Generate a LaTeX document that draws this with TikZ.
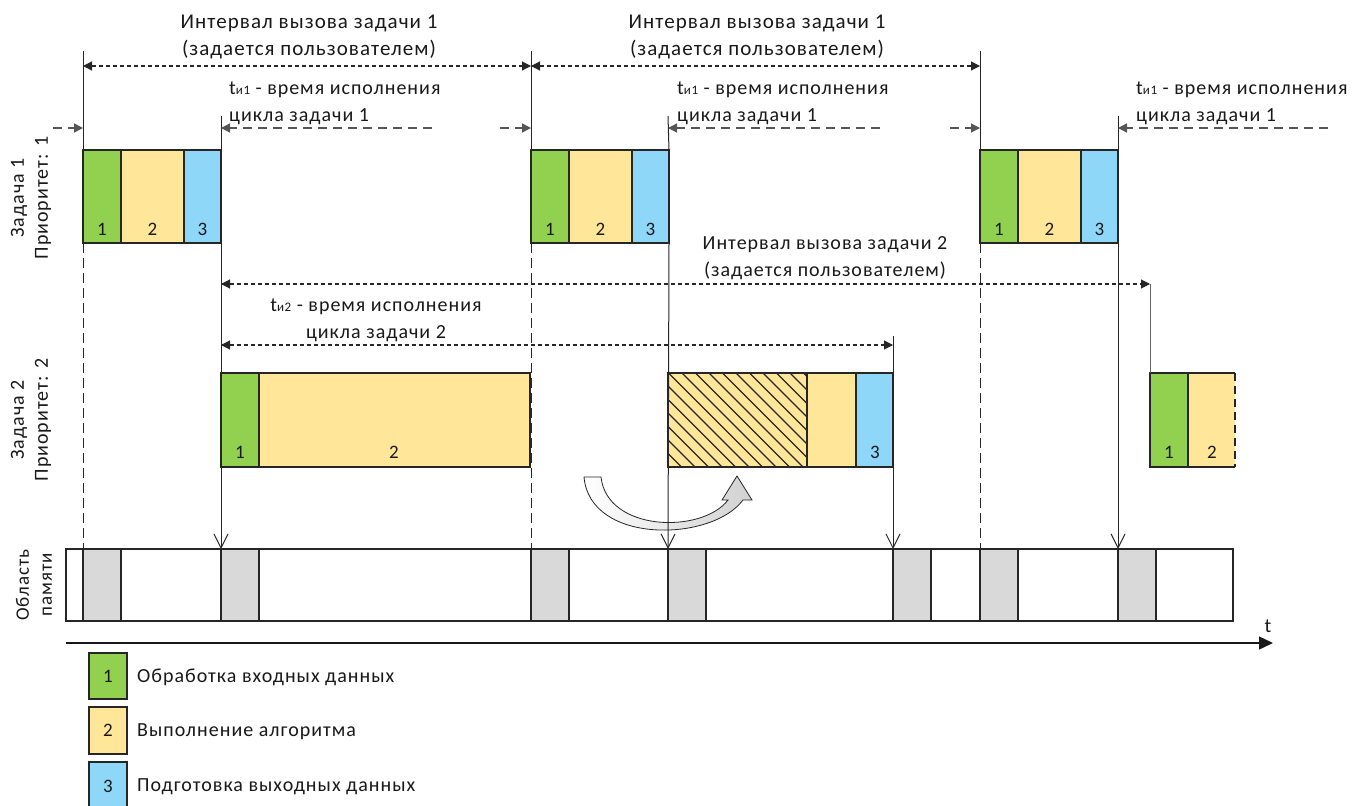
\documentclass[tikz,border=0pt]{standalone}
\usepackage{fontspec}
\setmainfont{Carlito}[LetterSpace=5]
\usetikzlibrary{arrows.meta}
\definecolor{cg}{HTML}{92D050}
\definecolor{cy}{HTML}{FFE699}
\definecolor{cb}{HTML}{8FD7F8}
\definecolor{cm}{HTML}{D9D9D9}
\definecolor{edge}{HTML}{262626}
\definecolor{dgray}{HTML}{555555}
\newcommand\smallsub[1]{{\fontsize{13}{13}\selectfont #1}}
\begin{document}
\begin{tikzpicture}[x=1pt,y=-1pt,
  cell/.style={draw=edge, line width=1.4pt, inner sep=0pt, outer sep=0pt, anchor=north west},
  num/.style={font=\fontsize{19}{19}\selectfont, inner sep=0pt, text=black!90},
  txt/.style={font=\fontsize{20}{27}\selectfont, inner sep=0pt, align=center, text=black!90},
  bigtxt/.style={txt, font=\fontsize{21}{27}\selectfont},
  rtxt/.style={font=\fontsize{20}{24}\selectfont, inner sep=0pt, align=center, rotate=90, text=black!90},
  vline/.style={line width=1pt, black!85},
  vdash/.style={line width=1pt, black!85, dash pattern=on 10pt off 5pt},
  vin/.style={line width=1pt, black!85, -{Straight Barb[length=14pt,width=14pt,line width=1pt]}},
  dimdot/.style={line width=1.1pt, black!85, dash pattern=on 4pt off 3pt},
  dimdash/.style={line width=1.3pt, dgray, dash pattern=on 9pt off 6pt},
  tip/.style={-{Triangle[length=9pt,width=9pt]}},
  tips/.style={{Triangle[length=9pt,width=9pt]}-{Triangle[length=9pt,width=9pt]}}
]
\useasboundingbox (0,0) rectangle (1358,806);

% ---------------- memory bar ----------------
\node[cell, draw=edge, minimum width=1167pt, minimum height=72pt] (mem) at (66,549) {};
\foreach \x/\n in {83/1,221/2,531/3,668/4,893/5,980/6,1118/7}
  \node[cell, fill=cm, minimum width=38pt, minimum height=72pt] (m\n) at (\x,549) {};

% ---------------- task 1 blocks ----------------
\foreach \x/\n in {83/a,531/b,980/c}{
  \node[cell, fill=cg, minimum width=38pt, minimum height=93pt] (g\n) at (\x,150) {};
  \node[cell, fill=cy, minimum width=63pt, minimum height=93pt] (y\n) at (\x+38,150) {};
  \node[cell, fill=cb, minimum width=37pt, minimum height=93pt] (b\n) at (\x+101,150) {};
  \node[num] at (\x+19,229) {1};
  \node[num] at (\x+69.5,229) {2};
  \node[num] at (\x+119.5,229) {3};
}

% ---------------- task 2 blocks ----------------
\node[cell, fill=cg, minimum width=38pt, minimum height=94pt] (t2g) at (221,373) {};
\node[cell, fill=cy, minimum width=271pt, minimum height=94pt] (t2y) at (259,373) {};
\node[num] at (240,452) {1};
\node[num] at (394,452) {2};

\node[cell, fill=cy, minimum width=139pt, minimum height=94pt] (t2h) at (668,373) {};
\begin{scope}
  \clip (668,373) rectangle (807,467);
  \foreach \k in {0,...,17}
    \draw[line width=1.1pt, edge] (668-94+\k*13.5,373) -- ++(94,94);
\end{scope}
\draw[edge, line width=1.4pt] (668,373) rectangle (807,467);
\node[cell, fill=cy, minimum width=49pt, minimum height=94pt] (t2y2) at (807,373) {};
\node[cell, fill=cb, minimum width=37pt, minimum height=94pt] (t2b) at (856,373) {};
\node[num] at (875,452) {3};

\node[cell, fill=cg, minimum width=38pt, minimum height=94pt] (t3g) at (1150,373) {};
\node[inner sep=0pt, outer sep=0pt, anchor=north west, fill=cy, minimum width=47pt, minimum height=94pt] (t3y) at (1188,373) {};
\draw[edge, line width=1.4pt] (t3y.north east) -- (t3y.north west) -- (t3y.south west) -- (t3y.south east);
\draw[edge, line width=1.4pt, dash pattern=on 8pt off 5pt] (t3y.north east) -- (t3y.south east);
\node[num] at (1169,452) {1};
\node[num] at (1212,452) {2};

% ---------------- curved arrow ----------------
\path[draw=edge, line width=0.8pt, left color=white, right color=black!18]
  (584,477) .. controls (590,545) and (712,542) .. (743,500)
  -- (752,500) -- (737,476) -- (722,500) -- (728,500)
  .. controls (702,534) and (607,532) .. (601,477) -- cycle;

% ---------------- vertical lines ----------------
\foreach \x/\n/\m in {83/a/1,531/b/3,980/c/6}{
  \coordinate (top\n) at (\x,51);
  \draw[vline] (top\n) -- (g\n.north west);
  \draw[vdash] (g\n.south west) -- (m\m.north west);
}
\foreach \x/\n/\m in {221/a/2,668/b/4,1118/c/7}{
  \coordinate (tope\n) at (\x,116);
  \draw[vline] (tope\n) -- (b\n.north east);
  \draw[vin] (b\n.south east) -- (m\m.north west);
}
\coordinate (t2top) at (893,336);
\draw[vin] (t2top) -- (m5.north west);
\coordinate (t3top) at (1150,284);
\draw[line width=1pt, black!60] (t3top) -- (t3g.north west);

% ---------------- dimension lines ----------------
\coordinate (i1a) at (83,66); \coordinate (i1b) at (531,66); \coordinate (i1c) at (980,66);
\draw[dimdot, tips] (i1a) -- (i1b);
\draw[dimdot, tips] (i1b) -- (i1c);

\foreach \xs/\xa/\xb/\xe in {53/83/221/432, 500/531/668/880, 950/980/1118/1328}{
  \draw[dimdash, tip] (\xs,128) -- (\xa,128);
  \draw[dimdash, tip] (\xe,128) -- (\xb,128);
}

\coordinate (i2a) at (221,284); \coordinate (i2b) at (1150,284);
\draw[dimdot, tips] (i2a) -- (i2b);
\coordinate (e2a) at (221,345); \coordinate (e2b) at (893,345);
\draw[dimdot, tips] (e2a) -- (e2b);

% ---------------- texts ----------------
\node[bigtxt] (l1) at (309,37) {Интервал вызова задачи 1\\(задается пользователем)};
\node[bigtxt] (l2) at (757,37) {Интервал вызова задачи 1\\(задается пользователем)};
\node[txt] (l3) at (825,258) {Интервал вызова задачи 2\\(задается пользователем)};
\node[txt, align=left, anchor=west] (e1) at (229,103) {t\smallsub{и1} - время исполнения\\цикла задачи 1};
\node[txt, align=left, anchor=west] (e2) at (677,103) {t\smallsub{и1} - время исполнения\\цикла задачи 1};
\node[txt, align=left, anchor=west] (e3) at (1136,103) {t\smallsub{и1} - время исполнения\\цикла задачи 1};
\node[txt] (e4) at (376,320) {t\smallsub{и2} - время исполнения\\цикла задачи 2};

\node[rtxt] (r1) at (31,198) {Задача 1\\Приоритет: 1};
\node[rtxt] (r2) at (31,420) {Задача 2\\Приоритет: 2};
\node[rtxt, font=\fontsize{19}{23}\selectfont] (r3) at (34,585) {Область\\памяти};

% ---------------- time axis ----------------
\coordinate (ax0) at (66,643); \coordinate (ax1) at (1273,643);
\draw[line width=1.4pt, black!90, -{Triangle[length=14pt,width=13pt]}] (ax0) -- (ax1);
\node[txt] (tl) at (1268,626) {t};

% ---------------- legend ----------------
\node[cell, fill=cg, minimum width=38pt, minimum height=46pt] (lg1) at (89,653) {};
\node[cell, fill=cy, minimum width=38pt, minimum height=47pt] (lg2) at (89,707) {};
\node[cell, fill=cb, minimum width=38pt, minimum height=47pt] (lg3) at (89,762) {};
\node[num] at (lg1.center) {1};
\node[num] at (lg2.center) {2};
\node[num] at (108,786) {3};
\node[txt, anchor=west] at (137,677) {Обработка входных данных};
\node[txt, anchor=west] at (137,732) {Выполнение алгоритма};
\node[txt, anchor=west] at (137,787) {Подготовка выходных данных};
\end{tikzpicture}
\end{document}
